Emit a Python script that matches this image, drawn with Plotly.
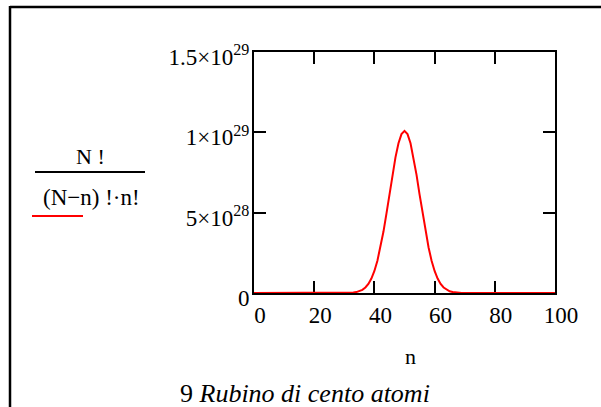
import plotly.graph_objects as go

# Data: n = 0..100, values of N!/((N-n)! n!) for N = 100
n_values = list(range(0, 101))
left_zero = [0.0] * 30  # n = 0..29 (invisible at this scale)
central = [
    2.94e25, 6.63e25, 1.43e26, 2.95e26, 5.81e26, 1.10e27, 1.98e27, 3.42e27,
    5.67e27, 9.02e27, 1.37e28, 2.01e28, 2.83e28, 3.81e28, 4.94e28, 6.14e28,
    7.35e28, 8.44e28, 9.32e28, 9.89e28, 1.009e29, 9.89e28, 9.32e28, 8.44e28,
    7.35e28, 6.14e28, 4.94e28, 3.81e28, 2.83e28, 2.01e28, 1.37e28, 9.02e27,
    5.67e27, 3.42e27, 1.98e27, 1.10e27, 5.81e26, 2.95e26, 1.43e26, 6.63e25,
    2.94e25,
]  # n = 30..70
right_zero = [0.0] * 30  # n = 71..100
counts = left_zero + central + right_zero

x_tickvals = [0, 20, 40, 60, 80, 100]
x_ticktext = ["0", "20", "40", "60", "80", "100"]
y_tickvals = [0, 5e28, 1e29, 1.5e29]
y_ticktext = ["0", "5×10<sup>28</sup>", "1×10<sup>29</sup>", "1.5×10<sup>29</sup>"]

W, H = 601, 407
L, R, T, B = 254, 46, 52, 114
PW, PH = W - L - R, H - T - B


def px(x):
    return (x - L) / PW


def py(y):
    return (H - B - y) / PH


FONT = "Liberation Serif"

fig = go.Figure()
fig.add_trace(go.Scatter(
    x=n_values, y=counts, mode="lines",
    line=dict(color="#ff0000", width=2),
    showlegend=False, cliponaxis=False,
))

axis_common = dict(
    showgrid=False, zeroline=False, showline=True, linecolor="black",
    linewidth=2, mirror="ticks", ticks="inside", ticklen=12, tickwidth=1.5,
    tickcolor="black", layer="below traces",
    tickfont=dict(family=FONT, size=23, color="black"),
)

fig.update_xaxes(range=[0, 100], tickvals=x_tickvals, ticktext=x_ticktext,
                 ticklabelshift=6, ticklabelstandoff=0, **axis_common)
fig.update_yaxes(range=[0, 1.5e29], tickvals=y_tickvals, ticktext=y_ticktext,
                 ticklabelshift=5, ticklabelstandoff=-2, **axis_common)

shapes = [
    # outer frame (top and left)
    dict(type="line", xref="paper", yref="paper", x0=px(10), x1=px(601),
         y0=py(7), y1=py(7), line=dict(color="black", width=2.5)),
    dict(type="line", xref="paper", yref="paper", x0=px(10), x1=px(10),
         y0=py(6), y1=py(407), line=dict(color="black", width=2.5)),
    # fraction bar
    dict(type="line", xref="paper", yref="paper", x0=px(35), x1=px(145),
         y0=py(172), y1=py(172), line=dict(color="black", width=2)),
    # legend sample line
    dict(type="line", xref="paper", yref="paper", x0=px(32), x1=px(83),
         y0=py(216), y1=py(216), line=dict(color="#ff0000", width=2)),
]

annotations = [
    dict(text="N !", x=px(90), y=py(156), xref="paper", yref="paper",
         showarrow=False, xanchor="center", yanchor="middle",
         font=dict(family=FONT, size=22, color="black")),
    dict(text="(N−n) !·n!", x=px(91), y=py(197), xref="paper", yref="paper",
         showarrow=False, xanchor="center", yanchor="middle",
         font=dict(family=FONT, size=23, color="black")),
    dict(text="n", x=px(410), y=py(356), xref="paper", yref="paper",
         showarrow=False, xanchor="center", yanchor="middle",
         font=dict(family=FONT, size=22, color="black")),
    dict(text="9 <i>Rubino di cento atomi</i>", x=px(305), y=py(393),
         xref="paper", yref="paper", showarrow=False, xanchor="center",
         yanchor="middle", font=dict(family=FONT, size=26, color="black")),
]

fig.update_layout(
    width=W, height=H, autosize=False,
    margin=dict(l=L, r=R, t=T, b=B, pad=0),
    paper_bgcolor="white", plot_bgcolor="white",
    shapes=shapes, annotations=annotations,
)

fig.write_html(
    "out.html",
    config={"displayModeBar": False},
    post_script="document.body.style.margin='0';document.body.style.overflow='hidden';",
)
